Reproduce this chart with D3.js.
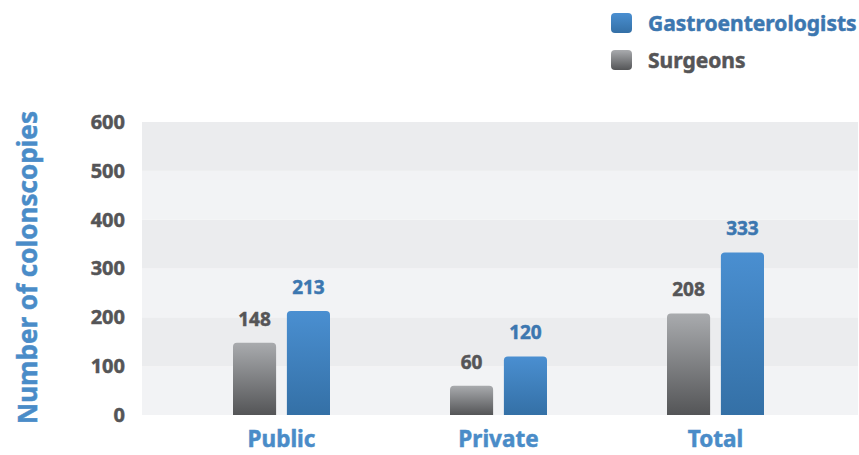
<!DOCTYPE html>
<html><head><meta charset="utf-8">
<script src="https://cdn.jsdelivr.net/npm/d3@7/dist/d3.min.js"></script>
<style>body{margin:0;background:#fff}svg{display:block}text{font-family:"Noto Sans","Open Sans",sans-serif;font-weight:700}</style>
</head><body><svg id="c" width="859" height="455"></svg>
<script>
const categories = ["Public", "Private", "Total"];
const seriesNames = ["Surgeons", "Gastroenterologists"];
const surgeons = [148, 60, 208];
const gastro = [213, 120, 333];
const yTicks = [0, 100, 200, 300, 400, 500, 600];

(function(){
const svg = d3.select("#c");
const defs = svg.append("defs");
const g1 = defs.append("linearGradient").attr("id","gGray").attr("x1",0).attr("y1",0).attr("x2",0).attr("y2",1);
g1.append("stop").attr("offset","0%").attr("stop-color","#a9abae");
g1.append("stop").attr("offset","100%").attr("stop-color","#545557");
const g2 = defs.append("linearGradient").attr("id","gBlue").attr("x1",0).attr("y1",0).attr("x2",0).attr("y2",1);
g2.append("stop").attr("offset","0%").attr("stop-color","#4a8fd1");
g2.append("stop").attr("offset","100%").attr("stop-color","#3470a6");

const pL = 142, pR = 858, pT = 122, pB = 415;
const y = d3.scaleLinear().domain([0, 600]).range([pB, pT]);
const x = d3.scaleBand().domain(categories).range([173, 824]).paddingInner(0);
const xs = d3.scaleBand().domain(seriesNames).range([x.bandwidth()/2 - 48.5, x.bandwidth()/2 + 48.5]).paddingInner(0.2);

for (let i = 0; i < yTicks.length - 1; i++) {
  svg.append("rect").attr("x", pL).attr("width", pR - pL)
    .attr("y", y(yTicks[i+1])).attr("height", y(yTicks[i]) - y(yTicks[i+1]))
    .attr("fill", i % 2 === 0 ? "#f2f3f5" : "#ebecee");
}

function heavy(sel, col) { sel.attr("stroke", col).attr("stroke-width", 0.5); }

const ya = svg.append("g").attr("transform", `translate(${pL},0)`)
  .call(d3.axisLeft(y).tickValues(yTicks).tickSize(0).tickPadding(17));
ya.select(".domain").remove();
ya.selectAll("text").attr("font-size", 20).attr("fill", "#555557")
  .attr("font-family", '"Noto Sans",sans-serif').attr("font-weight", 700).call(heavy, "#555557");

svg.append("text").attr("transform", `translate(37,${(pT+pB)/2 - 1}) rotate(-90)`)
  .attr("text-anchor","middle").attr("font-size", 26).attr("fill","#4a8cc8")
  .call(heavy, "#4a8cc8")
  .text("Number of colonscopies");

function roundTop(x0, y0, w, h, r) {
  r = Math.min(r, h);
  return `M${x0},${y0+h}V${y0+r}Q${x0},${y0} ${x0+r},${y0}H${x0+w-r}Q${x0+w},${y0} ${x0+w},${y0+r}V${y0+h}Z`;
}

const groups = svg.selectAll(".grp").data(categories).enter().append("g")
  .attr("transform", d => `translate(${x(d)},0)`);

const series = [
  {name: "Surgeons", vals: surgeons, fill: "url(#gGray)", lab: "#555557"},
  {name: "Gastroenterologists", vals: gastro, fill: "url(#gBlue)", lab: "#3c77b0"}
];
series.forEach(s => {
  groups.append("path").attr("fill", s.fill)
    .attr("d", (d, i) => roundTop(xs(s.name), y(s.vals[i]), xs.bandwidth(), y(0) - y(s.vals[i]), 4));
  groups.append("text").attr("text-anchor","middle").attr("font-size", 19).attr("fill", s.lab)
    .call(heavy, s.lab)
    .attr("x", xs(s.name) + xs.bandwidth()/2).attr("y", (d, i) => y(s.vals[i]) - 17)
    .text((d, i) => s.vals[i]);
});

const xa = svg.append("g").attr("transform", `translate(0,${pB})`)
  .call(d3.axisBottom(x).tickSize(0).tickPadding(16));
xa.select(".domain").remove();
xa.selectAll("text").attr("font-size", 22.5).attr("fill", "#4a8cc8")
  .attr("font-family", '"Noto Sans",sans-serif').attr("font-weight", 700).call(heavy, "#4a8cc8");

const legend = [
  {name: "Gastroenterologists", fill: "url(#gBlue)", col: "#3c77b0", yy: 13},
  {name: "Surgeons", fill: "url(#gGray)", col: "#555557", yy: 50}
];
legend.forEach(l => {
  svg.append("rect").attr("x", 611).attr("y", l.yy).attr("width", 21).attr("height", 20).attr("rx", 4).attr("fill", l.fill);
  svg.append("text").attr("x", 648).attr("y", l.yy + 18).attr("font-size", 21).attr("fill", l.col)
    .call(heavy, l.col).text(l.name);
});
})();
</script></body></html>
